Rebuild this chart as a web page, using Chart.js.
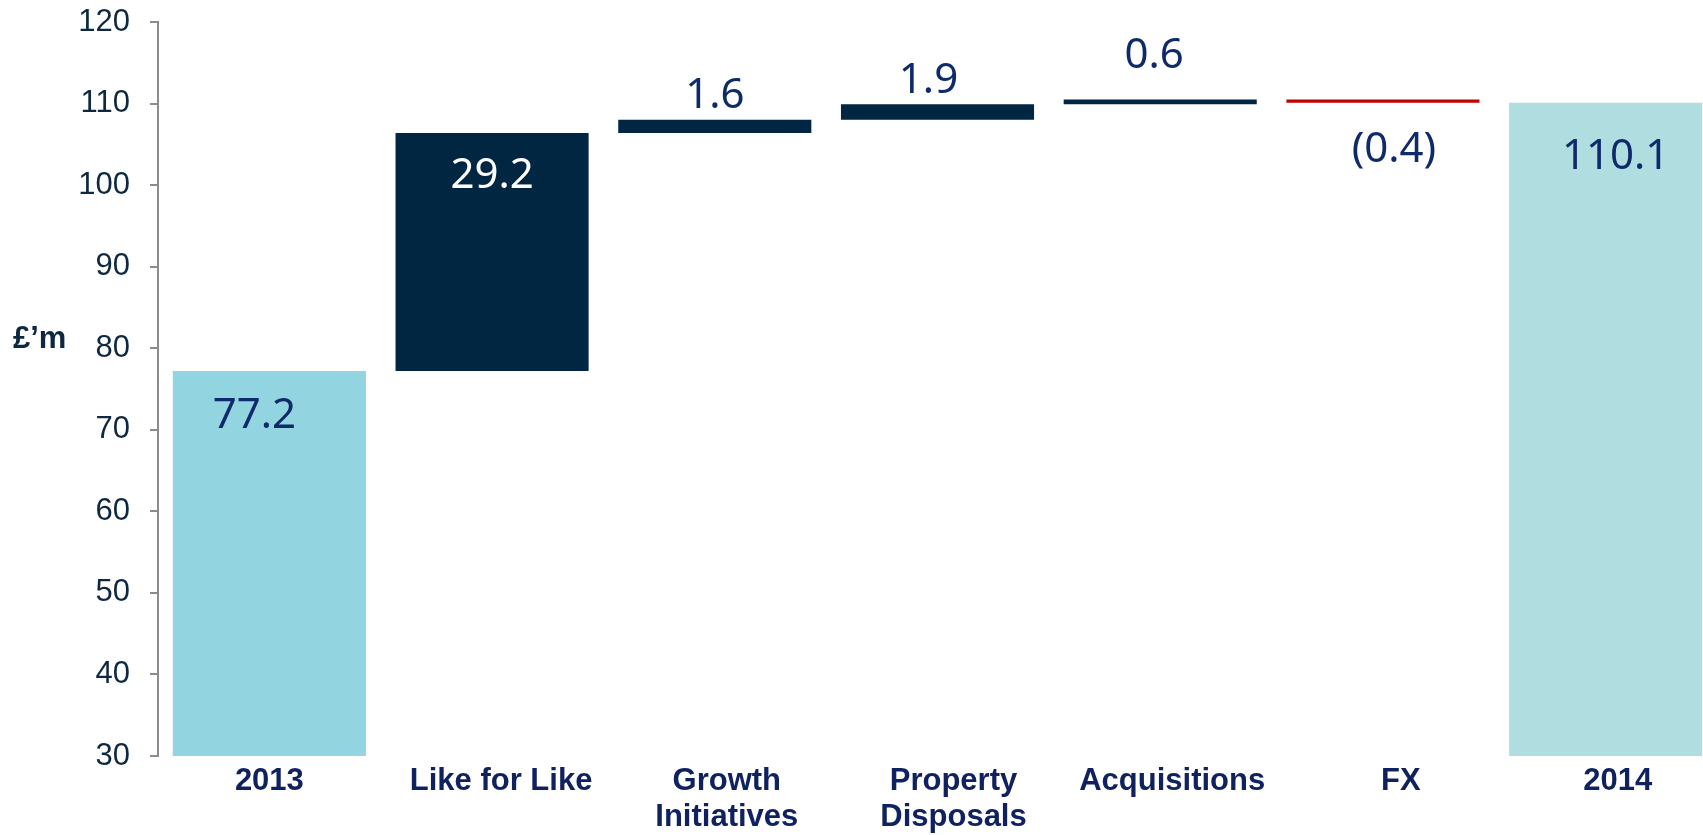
<!DOCTYPE html>
<html>
<head>
<meta charset="utf-8">
<script src="https://cdn.jsdelivr.net/npm/chart.js@4.4.1/dist/chart.umd.min.js"></script>
<style>
  html, body { margin: 0; padding: 0; background: #fff; overflow: hidden; }
  #wrap { width: 1717px; height: 835px; }
</style>
</head>
<body>
<div id="wrap"><canvas id="bridge" width="1717" height="835"></canvas></div>
<script>
// categories and movements (£'m)
const categories = ["2013", "Like for Like", ["Growth", "Initiatives"], ["Property", "Disposals"], "Acquisitions", "FX", "2014"];
const movements = [77.2, 29.2, 1.6, 1.9, 0.6, -0.4, 110.1];
const isTotal = [true, false, false, false, false, false, true];
const yTicks = [30, 40, 50, 60, 70, 80, 90, 100, 110, 120];

const barColors = ["#92D5E1", "#002642", "#002642", "#002642", "#002642", "#C00000", "#B0DDDF"];
const labelColors = ["#0F2A6B", "#FFFFFF", "#0F2A6B", "#0F2A6B", "#0F2A6B", "#0F2A6B", "#0F2A6B"];
// label placement: anchor edge of bar, vertical offset, horizontal nudge
const labelAnchor = ["top", "top", "top", "top", "top", "bottom", "top"];
const labelDy = [42, 40, -27, -26, -46, 44, 51];
const labelDx = [-15, 0, 0, -9, -6, 11, 10];
// category label nudge (px)
const catDx = [0, 9, 12, 16, 12, 18, 12];

// waterfall ranges built from the movements
const axisMin = yTicks[0];
let running = 0;
const ranges = movements.map((v, i) => {
  if (isTotal[i]) { running = v; return [axisMin, v]; }
  const start = running;
  running = +(running + v).toFixed(1);
  return [start, running];
});
const fmt = v => v < 0 ? "(" + Math.abs(v).toFixed(1) + ")" : v.toFixed(1);

const valueLabels = {
  id: "valueLabels",
  afterDatasetsDraw(chart) {
    const ctx = chart.ctx;
    const meta = chart.getDatasetMeta(0);
    ctx.save();
    ctx.font = "42px 'Noto Sans'";
    ctx.textAlign = "center";
    ctx.textBaseline = "alphabetic";
    meta.data.forEach((bar, i) => {
      const top = Math.min(bar.y, bar.base);
      const bottom = Math.max(bar.y, bar.base);
      const cy = (labelAnchor[i] === "top" ? top : bottom) + labelDy[i];
      ctx.fillStyle = labelColors[i];
      ctx.fillText(fmt(movements[i]), bar.x + labelDx[i], cy + 15);
    });

    // category labels under the axis
    const xs = chart.scales.x;
    ctx.font = "bold 31px 'Liberation Sans', Arial";
    ctx.fillStyle = "#0F215F";
    categories.forEach((c, i) => {
      const lines = Array.isArray(c) ? c : [c];
      const x = xs.getPixelForTick(i) + catDx[i];
      lines.forEach((t, k) => ctx.fillText(t, x, chart.chartArea.bottom + 34 + k * 36));
    });

    // unit label
    ctx.font = "bold 31px 'Liberation Sans', Arial";
    ctx.fillStyle = "#0E2841";
    ctx.textAlign = "left";
    ctx.fillText("£’m", 13, 348);
    ctx.restore();
  }
};

new Chart(document.getElementById("bridge"), {
  type: "bar",
  data: {
    labels: categories,
    datasets: [{
      data: ranges,
      backgroundColor: barColors,
      borderWidth: 0,
      barPercentage: 0.867,
      categoryPercentage: 1
    }]
  },
  options: {
    responsive: false,
    animation: false,
    layout: { padding: { top: 22, right: 0, left: 0, bottom: 0 } },
    plugins: { legend: { display: false }, tooltip: { enabled: false } },
    scales: {
      x: {
        grid: { display: false },
        border: { display: false },
        ticks: { display: false },
        afterFit(scale) { scale.height = 79; }
      },
      y: {
        min: axisMin,
        max: yTicks[yTicks.length - 1],
        afterBuildTicks(scale) { scale.ticks = yTicks.map(v => ({ value: v })); },
        grid: { drawOnChartArea: false, drawTicks: true, tickLength: 8, color: "#8C8C8C", lineWidth: 2 },
        border: { color: "#8C8C8C", width: 2 },
        ticks: {
          color: "#0E2841",
          font: { family: "'Liberation Sans', Arial", size: 31 },
          padding: 20
        },
        afterFit(scale) {
          scale.width = 158;
          scale.paddingTop = 0;
          scale.paddingBottom = 0;
        }
      }
    }
  },
  plugins: [valueLabels]
});
</script>
</body>
</html>
